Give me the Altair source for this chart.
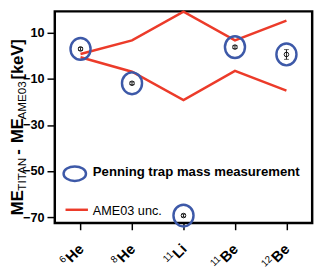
import altair as alt
import pandas as pd

# ---- data ----
nuclides = ["6He", "8He", "11Li", "11Be", "12Be"]
mass_numbers = ["6", "8", "11", "11", "12"]
elements = ["He", "He", "Li", "Be", "Be"]
me_diff = [3.0, -11.9, -69.3, 3.8, 0.6]          # ME_TITAN - ME_AME03 [keV]
me_err = [0.6, 0.6, 0.6, 0.6, 2.1]
ame_upper = [0.8, 6.7, 19.2, 6.7, 15.3]          # AME03 uncertainty band
ame_lower = [-0.6, -6.9, -19.2, -6.5, -15.1]
y_ticks = [10, -10, -30, -50, -70]

FONT = "Liberation Sans, Arial, Helvetica, sans-serif"
BLUE = "#3d59a8"
RED = "#ec3b2a"
W, H = 264, 217

df = pd.DataFrame({
    "nuclide": nuclides,
    "mass": mass_numbers,
    "element": elements,
    "me": me_diff,
    "err": me_err,
    "upper": ame_upper,
    "lower": ame_lower,
})
df["lo"] = df["me"] - df["err"]
df["hi"] = df["me"] + df["err"]

xenc = alt.X(
    "nuclide:N",
    sort=nuclides,
    scale=alt.Scale(type="point", padding=0.5, domain=nuclides),
    axis=alt.Axis(labels=False, title=None, ticks=True, tickSize=7, tickWidth=1.5,
                  tickColor="black", domain=False, grid=False),
)


def yenc(field):
    return alt.Y(
        f"{field}:Q",
        scale=alt.Scale(domain=[-72.5, 19.3], nice=False, zero=False),
        axis=alt.Axis(values=y_ticks, title=None, labelFontSize=13, labelFontWeight="bold",
                      labelFont=FONT, labelColor="black", tickSize=8, tickWidth=1.5,
                      tickColor="black", labelPadding=3, domain=False, grid=False),
    )


base = alt.Chart(df)

upper_line = base.mark_line(color=RED, strokeWidth=2.5).encode(x=xenc, y=yenc("upper"))
lower_line = base.mark_line(color=RED, strokeWidth=2.5).encode(x=xenc, y=yenc("lower"))

ELLIPSE_V = "M 0 -1 A 0.92 1 0 1 1 0 1 A 0.92 1 0 1 1 0 -1 Z"
ELLIPSE_H = "M -1 0 A 1 0.65 0 1 1 1 0 A 1 0.65 0 1 1 -1 0 Z"

rings = base.mark_point(shape=ELLIPSE_V, size=500, filled=False, color=BLUE,
                        strokeWidth=2.5, opacity=1).encode(x=xenc, y=yenc("me"))
err_rule = base.mark_rule(color="black", strokeWidth=0.9).encode(
    x=xenc, y=yenc("lo"), y2="hi")
cap_lo = base.mark_tick(color="black", size=5, thickness=0.9).encode(x=xenc, y=yenc("lo"))
cap_hi = base.mark_tick(color="black", size=5, thickness=0.9).encode(x=xenc, y=yenc("hi"))
dots = base.mark_point(shape="circle", size=22, filled=False, color="black",
                       strokeWidth=0.9, opacity=1).encode(x=xenc, y=yenc("me"))

# x tick labels: element symbol bold, mass number as superscript
LY = H + 15
el_labels = base.mark_text(angle=315, align="right", baseline="top", fontSize=15,
                           fontWeight="bold", font=FONT, color="black", dx=-6).encode(
    x=xenc, y=alt.value(LY), text="element:N")
sup_wide = base.transform_filter("datum.element != 'Li'").mark_text(
    angle=315, align="right", baseline="top", fontSize=10, font=FONT, color="black",
    dx=-26, dy=-2).encode(x=xenc, y=alt.value(LY), text="mass:N")
sup_narrow = base.transform_filter("datum.element == 'Li'").mark_text(
    angle=315, align="right", baseline="top", fontSize=10, font=FONT, color="black",
    dx=-20, dy=-2).encode(x=xenc, y=alt.value(LY), text="mass:N")

one = alt.Data(values=[{}])


def txt(s, x, y, size, weight="bold", angle=270, align="left", baseline="alphabetic"):
    return alt.Chart(one).mark_text(
        text=s, angle=angle, align=align, baseline=baseline, fontSize=size,
        fontWeight=weight, font=FONT, color="black"
    ).encode(x=alt.value(x), y=alt.value(y))


# y-axis title with subscripts
title_parts = [
    txt("ME", -33, 209, 17),
    txt("TITAN", -30, 184, 12, weight="normal"),
    txt("-", -33, 147, 17),
    txt("ME", -33, 135, 17),
    txt("AME03", -30, 111, 12, weight="normal"),
    txt("[keV]", -33, 70, 17),
]

# in-plot legend
leg_ring = alt.Chart(one).mark_point(shape=ELLIPSE_H, size=529, filled=False, color=BLUE,
                                     strokeWidth=2.5, opacity=1).encode(
    x=alt.value(20.5), y=alt.value(166.5))
leg_ring_txt = txt("Penning trap mass measurement", 39, 165, 13.5, angle=0,
                   baseline="middle")
leg_line = alt.Chart(one).mark_rule(color=RED, strokeWidth=2.5).encode(
    x=alt.value(11), x2=alt.value(34), y=alt.value(203.5))
leg_line_txt = txt("AME03 unc.", 39, 205, 13, weight="normal", angle=0,
                   baseline="middle")

chart = alt.layer(
    upper_line, lower_line, rings, err_rule, cap_lo, cap_hi, dots,
    el_labels, sup_wide, sup_narrow,
    *title_parts,
    leg_ring, leg_ring_txt, leg_line, leg_line_txt,
).properties(
    width=W, height=H,
    autosize=alt.AutoSizeParams(type="none"),
    padding={"left": 48, "top": 0, "right": 7, "bottom": 52},
).configure_view(stroke="black", strokeWidth=2.5)

chart.save("out.html", embed_options={"renderer": "svg", "actions": False})
